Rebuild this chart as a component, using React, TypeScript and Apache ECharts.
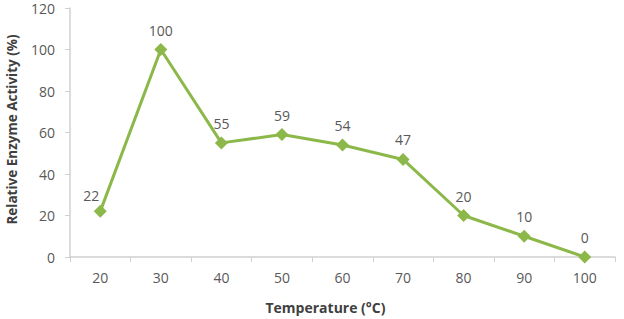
import React, { useEffect, useRef } from "react";
import * as echarts from "echarts";

const categories = ["20", "30", "40", "50", "60", "70", "80", "90", "100"];
const activity = [22, 100, 55, 59, 54, 47, 20, 10, 0];
const yTicks = { min: 0, max: 120, interval: 20 };

export default function App() {
  const ref = useRef<HTMLDivElement>(null);
  useEffect(() => {
    if (!ref.current) return;
    const chart = echarts.init(ref.current, null, { renderer: "svg" });
    const font = "'Open Sans', sans-serif";
    chart.setOption({
      animation: false,
      backgroundColor: "#ffffff",
      grid: { left: 70, right: 9, top: 8, bottom: 62, outerBoundsMode: "none", containLabel: false },
      xAxis: {
        type: "category",
        data: categories,
        boundaryGap: true,
        name: "Temperature (°C)",
        nameLocation: "middle",
        nameGap: 43,
        nameTextStyle: { fontFamily: font, fontWeight: "bold", fontSize: 14, color: "#404040", padding: [0, 34, 0, 0] },
        axisLine: { lineStyle: { color: "#d0d0d0", width: 1.5 } },
        axisTick: { show: true, length: 5, alignWithLabel: false, lineStyle: { color: "#d0d0d0" } },
        axisLabel: { fontFamily: font, fontSize: 14, color: "#595959", margin: 13 },
        splitLine: { show: false },
      },
      yAxis: {
        type: "value",
        min: yTicks.min,
        max: yTicks.max,
        interval: yTicks.interval,
        name: "Relative Enzyme Activity (%)",
        nameLocation: "middle",
        nameGap: 51,
        nameTextStyle: { fontFamily: font, fontWeight: "bold", fontSize: 13.5, color: "#404040", padding: [0, 0, 0, 6] },
        axisLine: { show: true, lineStyle: { color: "#d0d0d0", width: 1.5 } },
        axisTick: { show: true, length: 5, lineStyle: { color: "#d0d0d0" } },
        axisLabel: { fontFamily: font, fontSize: 14, color: "#595959", margin: 15 },
        splitLine: { show: false },
      },
      series: [
        {
          type: "line",
          data: activity.map((v, i) =>
            i === 0 ? { value: v, label: { offset: [-9, 4] } } : v
          ),
          symbol: "diamond",
          symbolSize: 13,
          itemStyle: { color: "#8cb84a" },
          lineStyle: { color: "#8cb84a", width: 3 },
          label: {
            show: true,
            position: "top",
            distance: 6,
            fontFamily: font,
            fontSize: 14,
            color: "#595959",
          },
        },
      ],
    });
    return () => chart.dispose();
  }, []);
  return (
    <div
      ref={ref}
      style={{ position: "fixed", left: 0, top: 0, width: 624, height: 319, background: "#fff" }}
    />
  );
}
